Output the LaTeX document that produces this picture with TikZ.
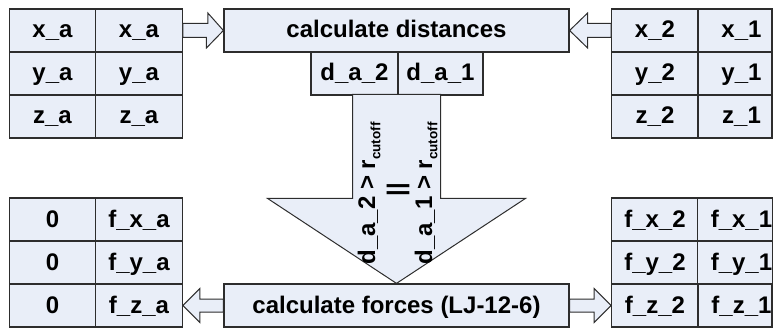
\documentclass[tikz,border=0pt]{standalone}
\usepackage{fontspec}
\setmainfont{Liberation Sans}
\usetikzlibrary{calc}
\definecolor{boxfill}{RGB}{233,238,248}
\definecolor{bord}{RGB}{45,45,45}
\newcommand{\cutsub}{\raisebox{-0.22em}{\fontsize{13.5}{14}\selectfont cutoff}}
\tikzset{
  cell/.style={draw=bord, fill=boxfill, line width=1.2pt, minimum height=43pt,
    inner sep=0pt, text height=18pt, text depth=3pt,
    font=\bfseries\fontsize{24}{28}\selectfont},
  lcol/.style={cell, minimum width=86.5pt},
  rcol/.style={cell, minimum width=74pt, execute at begin node={\hspace*{13pt}}},
  bigbox/.style={cell, minimum width=345pt},
  barrow/.style={draw=bord, fill=boxfill, line width=1pt, line join=miter},
  rottext/.style={rotate=90, anchor=base, inner sep=0pt, font=\bfseries\fontsize{24}{28}\selectfont}
}
\begin{document}
\begin{tikzpicture}[x=1pt,y=-1pt]
\useasboundingbox (0,0) rectangle (777,329);
% top-left table
\node[lcol] (tl11) at (52.5,30.5) {x\_a};
\node[lcol] (tl12) at (139,30.5) {x\_a};
\node[lcol] (tl21) at (52.5,73.5) {y\_a};
\node[lcol] (tl22) at (139,73.5) {y\_a};
\node[lcol] (tl31) at (52.5,116.5) {z\_a};
\node[lcol] (tl32) at (139,116.5) {z\_a};
% top-right table
\node[lcol] (tr11) at (655,30.5) {x\_2};
\node[rcol] (tr12) at (735,30.5) {x\_1};
\node[lcol] (tr21) at (655,73.5) {y\_2};
\node[rcol] (tr22) at (735,73.5) {y\_1};
\node[lcol] (tr31) at (655,116.5) {z\_2};
\node[rcol] (tr32) at (735,116.5) {z\_1};
% bottom-left table
\node[lcol] (bl11) at (52.5,219.5) {0};
\node[lcol] (bl12) at (139,219.5) {f\_x\_a};
\node[lcol] (bl21) at (52.5,262.5) {0};
\node[lcol] (bl22) at (139,262.5) {f\_y\_a};
\node[lcol] (bl31) at (52.5,305.5) {0};
\node[lcol] (bl32) at (139,305.5) {f\_z\_a};
% bottom-right table
\node[lcol] (br11) at (655,219.5) {f\_x\_2};
\node[rcol] (br12) at (735,219.5) {f\_x\_1};
\node[lcol] (br21) at (655,262.5) {f\_y\_2};
\node[rcol] (br22) at (735,262.5) {f\_y\_1};
\node[lcol] (br31) at (655,305.5) {f\_z\_2};
\node[rcol] (br32) at (735,305.5) {f\_z\_1};
% central boxes
\node[bigbox] (dist) at (396.5,30.5) {calculate distances};
\node[cell, minimum width=87pt] (d2) at (354.5,73.5) {d\_a\_2};
\node[cell, minimum width=85pt] (d1) at (440.5,73.5) {d\_a\_1};
\node[bigbox] (fc) at (396.5,305.5) {calculate forces (LJ-12-6)};
% block arrows
\draw[barrow] ($(tl12.east)+(0,-7)$) -- ++(25,0) -- ++(0,-10.5) -- (dist.west)
  -- ($(dist.west)+(-17,17.5)$) -- ++(0,-10.5) -- ($(tl12.east)+(0,7)$) -- cycle;
\draw[barrow] (dist.east) -- ++(18,-17.5) -- ++(0,10.5) -- ($(tr11.west)+(0,-7)$)
  -- ($(tr11.west)+(0,7)$) -- ($(dist.east)+(18,7)$) -- ++(0,10.5) -- cycle;
\draw[barrow] (bl32.east) -- ++(17,-17) -- ++(0,10.5) -- ($(fc.west)+(0,-6.5)$)
  -- ($(fc.west)+(0,6.5)$) -- ($(bl32.east)+(17,6.5)$) -- ++(0,10.5) -- cycle;
\draw[barrow] ($(fc.east)+(0,-6.5)$) -- ($(br31.west)+(-17,-6.5)$) -- ++(0,-10.5)
  -- (br31.west) -- ($(br31.west)+(-17,17)$) -- ++(0,-10.5) -- ($(fc.east)+(0,6.5)$) -- cycle;
\draw[barrow] (fc.north) -- ++(-129,-85) -- ++(85,0) -- ++(0,-104) -- ++(88,0)
  -- ++(0,104) -- ++(85,0) -- cycle;
% rotated condition text
\node[rottext] (c2) at (375,193.5) {d\_a\_2 > r\cutsub};
\node[rottext] (orr) at (404,190) {||};
\node[rottext] (c1) at (432,193.5) {d\_a\_1 > r\cutsub};
\end{tikzpicture}
\end{document}
